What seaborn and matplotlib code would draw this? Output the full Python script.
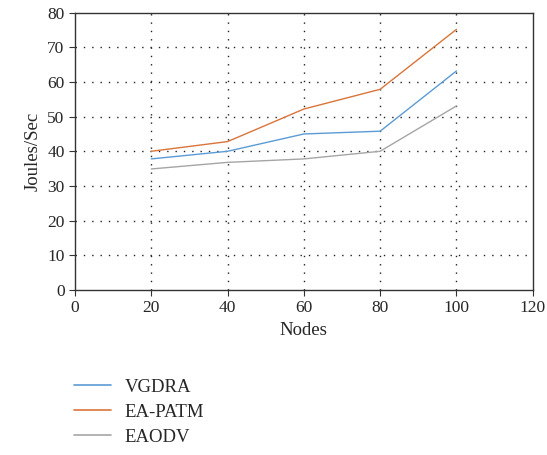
import pandas as pd
import matplotlib.pyplot as plt
import seaborn as sns

# ============================================================
# DATA
# ============================================================
nodes = [20, 40, 60, 80, 100]
vgdra = [37.8, 40.0, 45.0, 45.8, 63.2]
ea_patm = [40.0, 42.8, 52.2, 57.9, 75.2]
eaodv = [34.9, 36.8, 37.8, 40.0, 53.1]
series_names = ['VGDRA', 'EA-PATM', 'EAODV']
colors = ['#5B9BD5', '#D9743A', '#A5A5A5']

df = pd.DataFrame({
    'Nodes': nodes * 3,
    'Joules/Sec': vgdra + ea_patm + eaodv,
    'Series': [n for n in series_names for _ in nodes],
})

sns.set_style('ticks')
plt.rcParams['font.family'] = ['Liberation Serif', 'DejaVu Serif']

fig = plt.figure(figsize=(5.47, 4.55), dpi=100)
ax = fig.add_axes([0.137, 0.363, 0.837, 0.609])

sns.lineplot(data=df, x='Nodes', y='Joules/Sec', hue='Series',
             palette=colors, linewidth=1.0, ax=ax, legend=False)

ax.set_xlim(0, 120)
ax.set_ylim(0, 80)
ax.set_xticks(range(0, 121, 20))
ax.set_yticks(range(0, 81, 10))
ax.tick_params(labelsize=12.5, direction='out', length=4, color='#333333')
ax.set_xlabel('Nodes', fontsize=13.5)
ax.set_ylabel('Joules/Sec', fontsize=13.5)

for s in ax.spines.values():
    s.set_visible(True)
    s.set_color('#333333')
    s.set_linewidth(1.0)

# dotted grid, interior lines only
for x in range(20, 101, 20):
    ax.axvline(x, color='#222222', linestyle=(0, (1, 5)), linewidth=1.0, zorder=0)
for y in range(10, 71, 10):
    ax.axhline(y, color='#222222', linestyle=(0, (1, 5)), linewidth=1.0, zorder=0)

handles = [plt.Line2D([], [], color=c, linewidth=1.2) for c in colors]
fig.legend(handles, series_names, loc='upper left', bbox_to_anchor=(0.105, 0.205),
           frameon=False, fontsize=13.5, handlelength=1.95, labelspacing=0.42,
           handletextpad=0.75)

plt.savefig('out.png', dpi=100)
